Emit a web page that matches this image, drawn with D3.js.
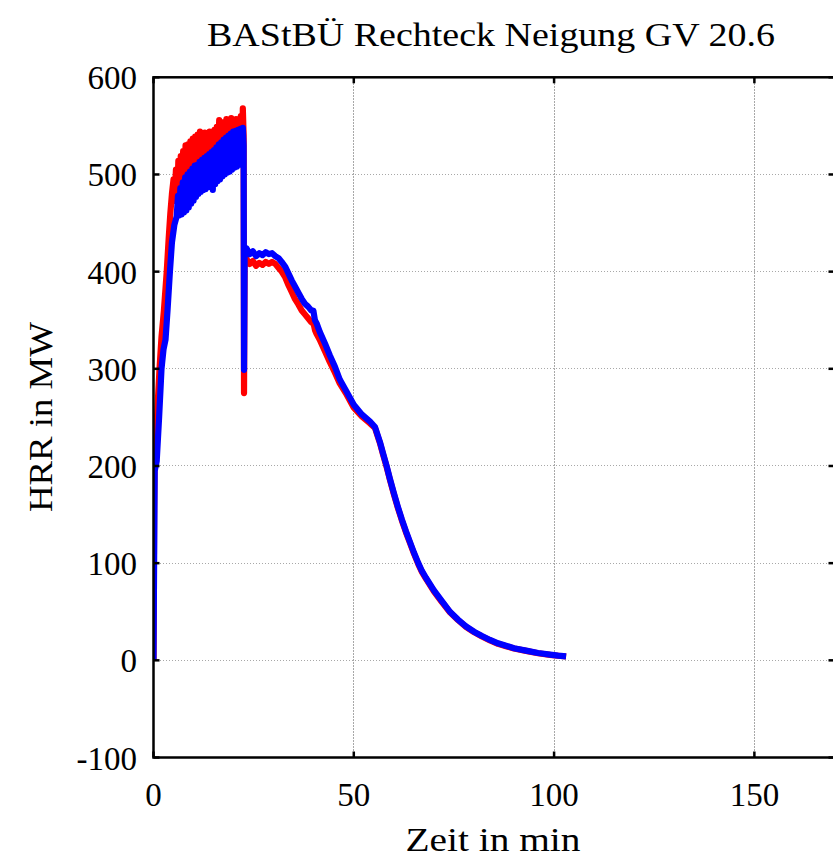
<!DOCTYPE html>
<html><head><meta charset="utf-8">
<script src="https://cdn.jsdelivr.net/npm/d3@7"></script>
<style>body{margin:0;background:#fff} svg{display:block}</style>
</head><body>
<svg id="c" width="833" height="860"></svg>
<script>
// ---- data ----
const title = "BAStBÜ Rechteck Neigung GV 20.6";
const xLabel = "Zeit in min";
const yLabel = "HRR in MW";
const xTicks = [0, 50, 100, 150];
const yTicks = [-100, 0, 100, 200, 300, 400, 500, 600];

const redTime = [0, 0.15, 0.3, 0.6, 1.0, 1.5, 2.0, 2.6, 3.3, 3.8, 4.2, 4.6,
  5.0, 5.3, 5.6, 5.9, 6.2, 6.5, 6.8, 7.1, 7.4, 7.7, 8.0, 8.3, 8.6, 8.9, 9.2, 9.5, 9.8, 10.1, 10.4, 10.7,
  11.0, 11.3, 11.6, 11.9, 12.2, 12.5, 12.8, 13.1, 13.4, 13.7, 14.0, 14.3, 14.6, 14.9, 15.2, 15.5, 15.8,
  16.1, 16.4, 16.7, 17.0, 17.3, 17.6, 17.9, 18.2, 18.5, 18.8, 19.1, 19.4, 19.7, 20.0, 20.3, 20.6, 20.9,
  21.2, 21.5, 21.8, 22.1, 22.3, 22.5, 22.6, 22.75,
  23.2, 24.0, 24.8, 25.6, 26.4, 27.2, 28.0, 28.8, 29.6, 30.4, 31.2, 32.0, 32.9, 33.7, 34.5, 35.3, 36.2,
  37.0, 37.8, 38.6, 39.4, 40.0, 40.3, 40.7, 41.5, 42.8, 44.0, 45.3, 46.5, 48.0, 50.0, 52.0, 54.0, 55.3,
  56.5, 57.3, 58.2, 59.0, 60.0, 61.0, 62.0, 63.0, 64.0, 65.0, 66.1, 67.0, 68.0, 70.0, 72.0, 74.0, 76.0,
  78.0, 80.0, 82.0, 84.0, 86.0, 88.0, 90.0, 93.0, 96.0, 99.0, 101.0, 103.0];
const redHRR = [0, 150, 215, 227, 260, 300, 333, 360, 400, 435, 460, 480,
  495, 478, 505, 472, 514, 476, 519, 480, 524, 484, 530, 487, 531, 490, 534, 492, 537, 495, 539, 496,
  541, 497, 544, 499, 538, 500, 543, 501, 539, 502, 544, 503, 541, 504, 546, 506, 549,
  508, 556, 509, 551, 510, 554, 511, 557, 512, 556, 513, 558, 514, 555, 515, 557, 515,
  555, 516, 560, 515, 568, 540, 275, 410,
  413, 408, 411, 406, 409, 407, 410, 408, 410, 408, 404, 400, 394, 386, 379, 372, 366,
  360, 356, 352, 348, 346, 340, 336, 330, 318, 307, 296, 285, 275, 260, 251, 244, 239,
  224, 212, 199, 186, 171, 157, 144, 132, 121, 110, 99, 91, 84, 71, 60, 49.5, 41.5,
  34.5, 29, 24.5, 20.5, 17, 14.5, 12.2, 9.7, 7.3, 5.6, 4.7, 3.9];

const blueTime = [0, 0.15, 0.3, 0.8, 1.4, 2.0, 2.5, 3.0, 3.5, 4.1, 4.6, 5.2,
  5.8, 6.1, 6.4, 6.7, 7.0, 7.3, 7.6, 7.9, 8.2, 8.5, 8.8, 9.1, 9.4, 9.7, 10.0, 10.3, 10.6, 10.9,
  11.2, 11.5, 11.8, 12.1, 12.4, 12.7, 13.0, 13.3, 13.6, 13.9, 14.2, 14.5, 14.8, 15.1, 15.4, 15.7,
  16.0, 16.3, 16.6, 16.9, 17.2, 17.5, 17.8, 18.1, 18.4, 18.7, 19.0, 19.3, 19.6, 19.9, 20.2, 20.5,
  20.8, 21.1, 21.4, 21.7, 22.0, 22.3, 22.5, 22.6, 22.75,
  23.2, 24.0, 24.8, 25.6, 26.4, 27.2, 28.0, 28.8, 29.6, 30.4, 31.2, 32.0, 32.9, 33.7, 34.5, 35.3, 36.2,
  37.0, 37.8, 38.6, 39.4, 39.9, 40.3, 40.7, 41.5, 42.8, 44.0, 45.3, 46.5, 48.0, 50.0, 52.0, 54.0, 55.3,
  56.5, 57.3, 58.2, 59.0, 60.0, 61.0, 62.0, 63.0, 64.0, 65.0, 66.1, 67.0, 68.0, 70.0, 72.0, 74.0, 76.0,
  78.0, 80.0, 82.0, 84.0, 86.0, 88.0, 90.0, 93.0, 96.0, 99.0, 101.0, 103.0];
const blueHRR = [0, 100, 195, 205, 250, 300, 320, 330, 360, 400, 430, 448,
  457, 478, 458, 486, 459, 492, 461, 497, 463, 500, 466, 503, 470, 506, 473, 509, 477, 510,
  480, 513, 482, 515, 484, 517, 485, 519, 487, 521, 489, 523, 484, 525, 490, 528,
  493, 531, 495, 533, 498, 536, 500, 538, 502, 540, 503, 542, 505, 544, 507, 545,
  508, 546, 510, 547, 512, 548, 530, 299, 420,
  424, 418, 421, 416, 419, 417, 420, 418, 419, 416, 414, 410, 405, 398, 391, 385, 378,
  372, 367, 364, 360, 360, 350, 347, 338, 326, 314, 302, 289, 278, 263, 253, 246, 240,
  225, 213, 200, 187, 172, 158, 145, 133, 122, 111, 100, 92, 85, 72, 61, 50, 42,
  35, 29.5, 25, 21, 17.5, 15, 12.5, 10, 7.5, 5.8, 4.8, 4];

// ---- layout ----
const svg = d3.select("#c");
const L = 153.5, R = 834.5, T = 77.3, B = 757.5;
const x = d3.scaleLinear().domain([0, 170]).range([L, R]);
const y = d3.scaleLinear().domain([-100, 600]).range([B, T]);
const font = "'Liberation Serif','Times New Roman',serif";

svg.append("defs").append("clipPath").attr("id", "clip")
  .append("rect").attr("x", L).attr("y", T).attr("width", R - L).attr("height", B - T);

// grid
const grid = svg.append("g").attr("stroke", "#a8a8a8").attr("stroke-width", 1)
  .attr("stroke-dasharray", "1.5,1.5").attr("shape-rendering", "crispEdges");
xTicks.filter(v => v > 0).forEach(v => {
  grid.append("line").attr("x1", x(v)).attr("x2", x(v)).attr("y1", T).attr("y2", B);
});
yTicks.filter(v => v > -100 && v < 600).forEach(v => {
  grid.append("line").attr("x1", L).attr("x2", R).attr("y1", y(v)).attr("y2", y(v));
});

// series
const line = d3.line().x(d => x(d[0])).y(d => y(d[1]));
const plot = svg.append("g").attr("clip-path", "url(#clip)");
plot.append("path").datum(d3.zip(redTime, redHRR)).attr("d", line)
  .attr("fill", "none").attr("stroke", "#ff0000").attr("stroke-width", 6.2)
  .attr("stroke-linejoin", "round");
plot.append("path").datum(d3.zip(blueTime, blueHRR)).attr("d", line)
  .attr("fill", "none").attr("stroke", "#0000ff").attr("stroke-width", 6.2)
  .attr("stroke-linejoin", "round");

// frame + ticks
const ax = svg.append("g").attr("stroke", "#000");
ax.append("rect").attr("x", L).attr("y", T).attr("width", R - L).attr("height", B - T)
  .attr("fill", "none").attr("stroke-width", 2.5);
const tl = 6;
xTicks.forEach(v => {
  ax.append("line").attr("x1", x(v)).attr("x2", x(v)).attr("y1", B).attr("y2", B - tl).attr("stroke-width", 2.5);
  ax.append("line").attr("x1", x(v)).attr("x2", x(v)).attr("y1", T).attr("y2", T + tl).attr("stroke-width", 2.5);
});
yTicks.forEach(v => {
  ax.append("line").attr("x1", L).attr("x2", L + tl).attr("y1", y(v)).attr("y2", y(v)).attr("stroke-width", 2.5);
  ax.append("line").attr("x1", R).attr("x2", R - tl).attr("y1", y(v)).attr("y2", y(v)).attr("stroke-width", 2.5);
});

// tick labels
const txt = svg.append("g").attr("font-family", font).attr("fill", "#000");
yTicks.forEach(v => {
  txt.append("text").attr("x", 137).attr("y", y(v) + 12).attr("text-anchor", "end")
    .attr("font-size", 33).text(String(v));
});
xTicks.forEach(v => {
  txt.append("text").attr("x", x(v)).attr("y", 806).attr("text-anchor", "middle")
    .attr("font-size", 33).text(String(v));
});

// titles
txt.append("text").attr("x", 491).attr("y", 46).attr("text-anchor", "middle")
  .attr("font-size", 34).attr("textLength", 568).attr("lengthAdjust", "spacingAndGlyphs").text(title);
txt.append("text").attr("x", 493).attr("y", 851).attr("text-anchor", "middle")
  .attr("font-size", 33).attr("textLength", 175).attr("lengthAdjust", "spacingAndGlyphs").text(xLabel);
txt.append("text").attr("transform", "translate(52,417) rotate(-90)").attr("text-anchor", "middle")
  .attr("font-size", 34).attr("textLength", 190).attr("lengthAdjust", "spacingAndGlyphs").text(yLabel);
</script>
</body></html>
